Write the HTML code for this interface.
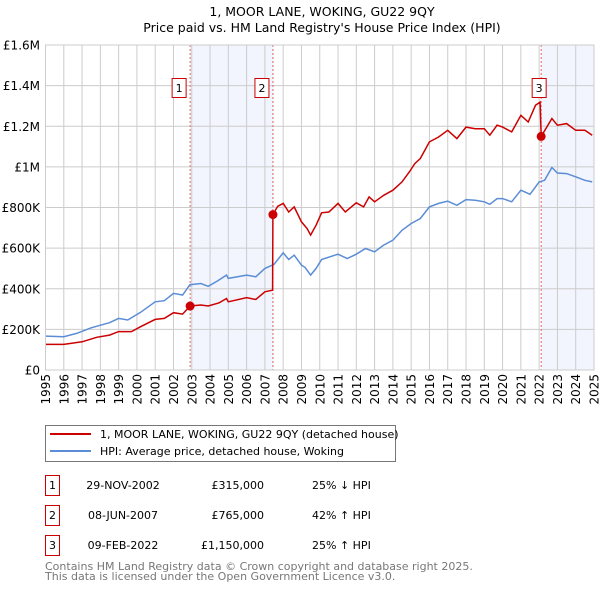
<!DOCTYPE html>
<html><head><meta charset="utf-8"><style>
body{margin:0;background:#fff;}
svg{display:block;font-family:"DejaVu Sans","Liberation Sans",sans-serif;}
</style></head><body>
<svg id="c" width="600" height="590" viewBox="0 0 600 590" xmlns="http://www.w3.org/2000/svg">
<text x="322" y="16" font-size="12.5" text-anchor="middle">1, MOOR LANE, WOKING, GU22 9QY</text>
<text x="322" y="32" font-size="12.5" text-anchor="middle">Price paid vs. HM Land Registry's House Price Index (HPI)</text>
<g id="plot"></g>
<g font-size="12" text-anchor="end">
<g transform="translate(50,374) rotate(-90)"><text>1995</text></g>
<g transform="translate(68.3,374) rotate(-90)"><text>1996</text></g>
<g transform="translate(86.6,374) rotate(-90)"><text>1997</text></g>
<g transform="translate(104.8,374) rotate(-90)"><text>1998</text></g>
<g transform="translate(123.1,374) rotate(-90)"><text>1999</text></g>
<g transform="translate(141.4,374) rotate(-90)"><text>2000</text></g>
<g transform="translate(159.7,374) rotate(-90)"><text>2001</text></g>
<g transform="translate(178,374) rotate(-90)"><text>2002</text></g>
<g transform="translate(196.3,374) rotate(-90)"><text>2003</text></g>
<g transform="translate(214.6,374) rotate(-90)"><text>2004</text></g>
<g transform="translate(232.8,374) rotate(-90)"><text>2005</text></g>
<g transform="translate(251.1,374) rotate(-90)"><text>2006</text></g>
<g transform="translate(269.4,374) rotate(-90)"><text>2007</text></g>
<g transform="translate(287.7,374) rotate(-90)"><text>2008</text></g>
<g transform="translate(306,374) rotate(-90)"><text>2009</text></g>
<g transform="translate(324.3,374) rotate(-90)"><text>2010</text></g>
<g transform="translate(342.5,374) rotate(-90)"><text>2011</text></g>
<g transform="translate(360.8,374) rotate(-90)"><text>2012</text></g>
<g transform="translate(379.1,374) rotate(-90)"><text>2013</text></g>
<g transform="translate(397.4,374) rotate(-90)"><text>2014</text></g>
<g transform="translate(415.7,374) rotate(-90)"><text>2015</text></g>
<g transform="translate(434,374) rotate(-90)"><text>2016</text></g>
<g transform="translate(452.2,374) rotate(-90)"><text>2017</text></g>
<g transform="translate(470.5,374) rotate(-90)"><text>2018</text></g>
<g transform="translate(488.8,374) rotate(-90)"><text>2019</text></g>
<g transform="translate(507.1,374) rotate(-90)"><text>2020</text></g>
<g transform="translate(525.4,374) rotate(-90)"><text>2021</text></g>
<g transform="translate(543.7,374) rotate(-90)"><text>2022</text></g>
<g transform="translate(561.9,374) rotate(-90)"><text>2023</text></g>
<g transform="translate(580.2,374) rotate(-90)"><text>2024</text></g>
<g transform="translate(598.5,374) rotate(-90)"><text>2025</text></g>
</g>
<g>
<rect x="45.5" y="425.5" width="350" height="36" fill="#fff" stroke="#777"/>
<line x1="50" y1="434" x2="91" y2="434" stroke="#cc0000" stroke-width="2"/>
<text x="100" y="438" font-size="11">1, MOOR LANE, WOKING, GU22 9QY (detached house)</text>
<line x1="50" y1="451" x2="91" y2="451" stroke="#5b8dd6" stroke-width="2"/>
<text x="100" y="455" font-size="11">HPI: Average price, detached house, Woking</text>
</g>
<g font-size="11">
<rect x="45.5" y="475.5" width="14" height="20" fill="#fff" stroke="#cc0000"/><text x="52.5" y="489" text-anchor="middle">1</text>
<text x="123" y="489" text-anchor="middle">29-NOV-2002</text><text x="264" y="489" text-anchor="end">£315,000</text><text x="312" y="489">25% ↓ HPI</text>
<rect x="45.5" y="505.5" width="14" height="20" fill="#fff" stroke="#cc0000"/><text x="52.5" y="519" text-anchor="middle">2</text>
<text x="123" y="519" text-anchor="middle">08-JUN-2007</text><text x="264" y="519" text-anchor="end">£765,000</text><text x="312" y="519">42% ↑ HPI</text>
<rect x="45.5" y="535.5" width="14" height="20" fill="#fff" stroke="#cc0000"/><text x="52.5" y="549" text-anchor="middle">3</text>
<text x="123" y="549" text-anchor="middle">09-FEB-2022</text><text x="264" y="549" text-anchor="end">£1,150,000</text><text x="312" y="549">25% ↑ HPI</text>
</g>
<text x="45" y="570" font-size="11" fill="#777">Contains HM Land Registry data © Crown copyright and database right 2025.</text>
<text x="45" y="580" font-size="11" fill="#777">This data is licensed under the Open Government Licence v3.0.</text>
</svg>
<script>
const hpiYears=[1995,1996,1996.7,1997.5,1998.5,1999,1999.5,2000.2,2001,2001.5,2002,2002.5,2002.9,2003.5,2003.9,2004.4,2004.9,2005,2006,2006.5,2007,2007.5,2008,2008.3,2008.6,2009,2009.2,2009.5,2009.8,2010.1,2011,2011.5,2012,2012.5,2013,2013.5,2014,2014.5,2015,2015.5,2016,2016.5,2017,2017.5,2018,2018.5,2019,2019.3,2019.7,2020,2020.5,2021,2021.5,2022,2022.3,2022.7,2023,2023.5,2024,2024.5,2024.9];
const hpiValues=[167,164,180,208,233,254,246,284,336,341,377,369,420,426,412,438,467,451,467,459,500,520,577,544,565,516,505,467,500,544,570,549,570,598,582,615,639,688,721,746,803,820,831,811,839,836,828,816,844,844,828,885,865,926,934,997,970,967,951,934,926];
const redYears=[1995,1996,1997,1997.8,1998.5,1999,1999.7,2000.2,2001,2001.5,2002,2002.5,2002.91,2003.5,2003.9,2004.5,2004.9,2005,2006,2006.5,2007,2007.42,2007.44,2007.7,2008,2008.3,2008.6,2009,2009.3,2009.5,2009.8,2010.1,2010.5,2011,2011.4,2012,2012.4,2012.7,2013,2013.5,2014,2014.5,2014.9,2015.2,2015.5,2016,2016.5,2017,2017.5,2018,2018.5,2019,2019.3,2019.7,2020,2020.5,2021,2021.4,2021.8,2022.05,2022.11,2022.7,2023,2023.5,2024,2024.5,2024.9];
const redValues=[126,126,139,161,172,189,189,213,249,254,282,275,315,320,315,331,352,336,356,347,385,393,765,806,820,778,803,729,697,664,713,774,778,820,778,823,803,852,828,860,885,926,975,1016,1041,1123,1147,1180,1139,1196,1188,1188,1156,1205,1196,1172,1254,1221,1303,1319,1150,1238,1205,1213,1180,1180,1156];
const saleYears=[2002.91,2007.44,2022.11];
const saleValues=[315,765,1150];
const saleLabels=["1","2","3"];
const yTicks=[0,200,400,600,800,1000,1200,1400,1600];
const yTickLabels=["£0","£200K","£400K","£600K","£800K","£1M","£1.2M","£1.4M","£1.6M"];
const xTicks=[1995,1996,1997,1998,1999,2000,2001,2002,2003,2004,2005,2006,2007,2008,2009,2010,2011,2012,2013,2014,2015,2016,2017,2018,2019,2020,2021,2022,2023,2024,2025];

const X0=45.5,X1=594,Y0=370,Y1=45;
const xs=y=>X0+(y-1995)/30*(X1-X0);
const ys=v=>Y0-v/1600*(Y0-Y1);
const NS="http://www.w3.org/2000/svg";
const g=document.getElementById('plot');
function mk(t,a){const e=document.createElementNS(NS,t);for(const k in a)e.setAttribute(k,a[k]);g.appendChild(e);return e;}

let e=mk('rect',{x:xs(saleYears[0]),y:Y1,width:xs(saleYears[1])-xs(saleYears[0]),height:Y0-Y1,fill:'#f2f5fd'});


e=mk('rect',{x:xs(saleYears[2]),y:Y1,width:X1-xs(saleYears[2]),height:Y0-Y1,fill:'#f2f5fd'});



yTicks.forEach((v,i)=>{
 e=mk('line',{x1:X0,x2:X1,y1:ys(v),y2:ys(v),stroke:'#ccc','stroke-width':1});
 
 
 e=mk('text',{x:40,y:ys(v)+4.5,'font-size':12,'text-anchor':'end'});
 e.textContent=yTickLabels[i];
 
 
});
xTicks.forEach(t=>{
 e=mk('line',{x1:xs(t),x2:xs(t),y1:Y1,y2:Y0,stroke:'#ccc','stroke-width':1});
 
 
});
saleYears.forEach((s,i)=>{
 e=mk('line',{x1:xs(s),x2:xs(s),y1:Y1,y2:Y0,stroke:'#e06666','stroke-width':1,'stroke-dasharray':'2,2'});
 
 
});
e=mk('path',{d:hpiYears.map((y,i)=>(i?'L':'M')+xs(y).toFixed(1)+','+ys(hpiValues[i]).toFixed(1)).join(''),fill:'none',stroke:'#5b8dd6','stroke-width':1.5});


e=mk('path',{d:redYears.map((y,i)=>(i?'L':'M')+xs(y).toFixed(1)+','+ys(redValues[i]).toFixed(1)).join(''),fill:'none',stroke:'#cc0000','stroke-width':1.5});


saleYears.forEach((s,i)=>{
 e=mk('circle',{cx:xs(s),cy:ys(saleValues[i]),r:4.5,fill:'#cc0000'});
 
 
 const bx=i<2?xs(s)-18:xs(s)-9;
 e=mk('rect',{x:bx,y:78.5,width:14,height:19,fill:'#fff',stroke:'#cc0000'});
 
 
 e=mk('text',{x:bx+7,y:92,'font-size':11,'text-anchor':'middle'});
 e.textContent=saleLabels[i];
 
 
});
e=mk('rect',{x:X0,y:Y1,width:X1-X0,height:Y0-Y1,fill:'none',stroke:'#ccc'});


</script>
</body></html>
